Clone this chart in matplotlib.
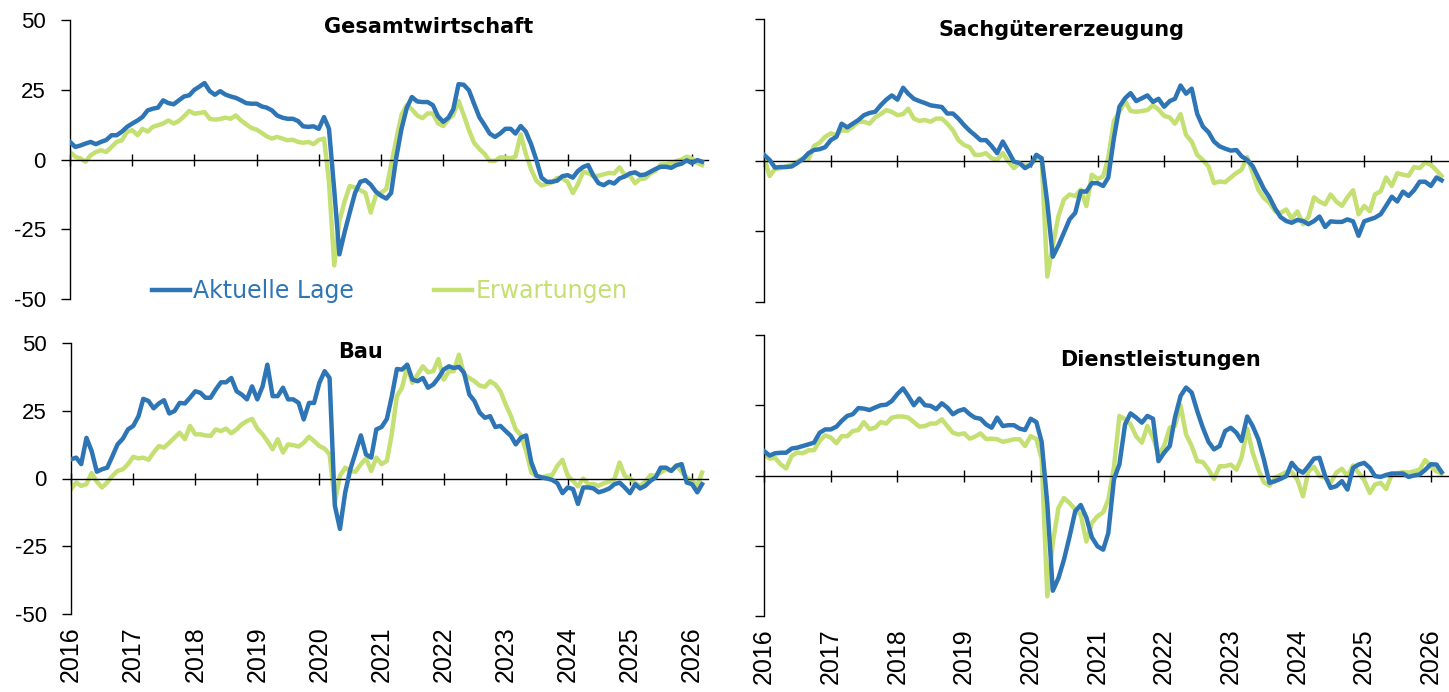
import matplotlib
matplotlib.use("Agg")
import matplotlib.pyplot as plt
import matplotlib.dates as mdates
import pandas as pd

# WIFO-Konjunkturtest: Indizes der aktuellen Lage und der Erwartungen (Salden)
MONTHS = pd.date_range("2016-01-01", periods=123, freq="MS")
YEARS = [str(y) for y in range(2016, 2027)]
YTICKS = [-50, -25, 0, 25, 50]
YLABELS = ["-50", "-25", "0", "25", "50"]

GW_LAGE = [
    6.3, 4.5, 5.0, 5.7, 6.3, 5.5, 6.3, 7.0, 8.7, 8.7, 10.0, 11.7,
    12.9, 14.0, 15.2, 17.6, 18.2, 18.6, 21.2, 20.2, 19.8, 21.2, 22.6, 23.0,
    25.0, 26.2, 27.4, 24.5, 23.2, 24.5, 23.3, 22.6, 22.1, 21.2, 20.2, 20.0,
    20.0, 19.0, 18.6, 17.6, 15.8, 15.0, 14.6, 14.6, 13.8, 11.9, 11.7, 11.9,
    11.0, 15.2, 11.0, -11.0, -34.0, -26.0, -19.0, -12.0, -8.0, -7.4, -9.0, -11.5,
    -13.0, -14.0, -12.0, 1.0, 11.0, 18.5, 22.4, 20.8, 20.6, 20.6, 19.5, 15.5,
    13.5, 15.0, 18.0, 27.0, 26.8, 24.8, 20.0, 15.2, 12.3, 9.3, 8.1, 9.3,
    11.0, 11.0, 9.3, 12.0, 10.0, 5.5, 0.0, -6.5, -8.0, -8.0, -7.6, -6.0,
    -5.6, -6.5, -4.2, -2.7, -2.0, -5.8, -8.5, -9.2, -8.0, -8.6, -6.8, -6.1,
    -5.0, -4.6, -5.6, -5.4, -4.4, -3.4, -2.6, -2.6, -3.0, -2.0, -1.5, -0.3,
    -1.3, -0.2, -0.8,
]
GW_ERW = [
    2.7, 1.0, 0.4, -0.8, 1.5, 2.7, 3.3, 2.7, 4.5, 6.3, 6.9, 9.9,
    10.5, 8.7, 11.0, 10.0, 11.7, 12.3, 12.9, 14.0, 12.9, 13.8, 15.5, 17.4,
    16.4, 16.7, 17.0, 14.6, 14.3, 14.5, 15.0, 14.6, 15.8, 14.0, 12.6, 11.3,
    10.7, 9.5, 8.3, 7.5, 8.1, 7.5, 6.9, 7.1, 6.3, 6.0, 6.3, 5.5,
    7.0, 7.5, -8.0, -38.0, -22.0, -15.0, -9.5, -10.0, -11.0, -12.0, -19.0, -13.0,
    -12.0, -10.5, -2.0, 7.5, 16.0, 19.5, 18.0, 15.8, 14.8, 16.5, 16.5, 13.0,
    12.0, 14.5, 16.0, 21.0, 16.0, 10.5, 6.0, 3.8, 2.0, -0.5, -0.5, 0.8,
    0.7, 0.5, 1.0, 9.0, 2.0, -3.5, -7.5, -9.3, -8.8, -8.2, -6.6, -6.8,
    -8.0, -12.0, -9.0, -4.5, -4.8, -6.0, -5.8, -5.3, -4.8, -5.0, -2.8, -5.5,
    -5.8, -8.5, -7.0, -6.8, -5.0, -4.0, -1.8, -1.7, -1.4, -0.6, 0.0, 1.0,
    0.3, -1.2, -2.0,
]
SG_LAGE = [
    2.0, 0.2, -2.5, -2.3, -2.3, -2.1, -0.9, 0.5, 2.6, 3.7, 4.0, 4.7,
    7.2, 8.4, 13.0, 11.7, 13.0, 14.3, 16.0, 16.8, 17.2, 19.5, 21.5, 23.0,
    21.5, 25.7, 23.6, 21.8, 21.0, 20.3, 19.5, 19.2, 18.9, 16.6, 16.6, 14.8,
    12.5, 10.5, 9.0, 7.2, 7.2, 5.1, 2.6, 6.7, 3.2, -0.4, -0.9, -2.7,
    -1.5, 2.0, 0.8, -15.0, -34.0, -30.0, -25.5, -20.8, -18.5, -10.9, -11.0, -8.0,
    -8.0, -9.0, -6.0, 8.0, 19.0, 22.0, 23.8, 21.0, 22.0, 23.0, 20.7, 21.8,
    19.0, 21.0, 21.8, 26.5, 23.6, 25.4, 16.5, 12.0, 10.0, 6.7, 5.0, 4.2,
    3.5, 3.7, 1.5, 0.2, -2.0, -6.0, -10.0, -13.0, -17.0, -20.0, -21.4, -22.0,
    -21.0, -21.4, -22.5, -21.4, -19.8, -23.5, -21.5, -21.7, -21.7, -20.8, -21.5, -26.6,
    -21.5, -20.8, -20.2, -19.0, -16.0, -12.8, -14.5, -11.0, -12.5, -10.5, -7.5, -7.5,
    -9.0, -6.0, -7.0,
]
SG_ERW = [
    1.2, -5.5, -3.0, -2.7, -2.1, -1.5, -0.4, 0.8, 0.5, 5.1, 6.3, 8.4,
    9.6, 9.0, 10.7, 10.5, 11.9, 13.7, 13.7, 13.0, 15.2, 16.4, 17.8, 17.2,
    16.0, 16.4, 18.3, 14.8, 14.0, 14.3, 13.7, 14.8, 14.8, 13.0, 10.7, 7.2,
    5.5, 4.7, 2.0, 2.0, 2.6, 0.8, 0.2, 2.6, -0.4, -2.7, -0.9, -1.9,
    -1.5, 0.8, 0.8, -41.0, -30.0, -19.6, -13.8, -12.0, -12.6, -10.3, -16.1, -5.0,
    -6.5, -5.6, 1.0, 14.0, 17.2, 21.0, 17.5, 17.2, 17.5, 17.8, 19.5, 18.0,
    15.8, 15.2, 13.0, 16.4, 9.0, 6.7, 2.0, 0.2, -2.1, -8.0, -7.4, -7.7,
    -6.0, -4.4, -3.3, 1.2, -4.4, -10.3, -13.2, -15.0, -17.9, -18.5, -17.3, -20.5,
    -18.0, -22.5, -20.0, -13.0, -14.5, -15.5, -12.0, -14.5, -16.0, -13.0, -10.5, -19.0,
    -16.1, -17.9, -12.0, -10.9, -6.0, -9.0, -4.5, -5.0, -5.4, -2.3, -2.7, -0.7,
    -1.5, -3.5, -5.5,
]
BAU_LAGE = [
    7.1, 7.7, 5.3, 15.0, 10.2, 2.5, 3.4, 4.0, 8.3, 12.6, 14.7, 18.1,
    19.4, 23.0, 29.4, 28.6, 25.9, 27.7, 28.9, 24.0, 24.9, 27.9, 27.7, 29.8,
    32.2, 31.6, 29.8, 29.8, 32.8, 35.5, 35.5, 37.1, 32.2, 31.0, 29.2, 34.0,
    29.2, 34.0, 42.0, 30.4, 30.4, 33.5, 29.2, 29.2, 27.9, 21.8, 27.9, 27.9,
    35.3, 39.6, 37.1, -10.0, -18.6, -5.1, 3.4, 9.6, 15.9, 8.9, 7.7, 18.1,
    19.0, 22.0, 30.0, 40.4, 40.2, 42.0, 36.5, 35.9, 37.1, 33.5, 34.7, 37.1,
    40.2, 41.4, 40.8, 41.2, 39.0, 31.0, 28.6, 24.3, 22.4, 23.0, 19.0, 19.4,
    17.5, 15.7, 12.6, 15.1, 15.9, 5.9, 1.0, 0.4, 0.0, -0.5, -1.7, -5.4,
    -3.3, -3.9, -9.4, -3.3, -3.3, -3.7, -5.1, -4.5, -3.7, -2.1, -1.5, -3.3,
    -5.4, -2.1, -3.7, -2.7, -0.9, 0.4, 4.0, 4.0, 2.8, 4.7, 5.3, -1.5,
    -2.1, -5.1, -2.1,
]
BAU_ERW = [
    -3.9, -1.5, -2.7, -2.1, 2.0, -1.2, -3.3, -1.5, 1.0, 2.8, 3.4, 5.3,
    8.0, 7.4, 7.7, 6.9, 9.6, 12.0, 11.4, 13.2, 15.1, 16.9, 14.5, 19.4,
    16.3, 16.3, 15.9, 15.7, 18.1, 17.5, 18.4, 16.7, 18.1, 20.0, 21.2, 22.0,
    18.4, 16.3, 13.8, 10.8, 14.5, 9.6, 12.6, 12.3, 11.8, 13.2, 15.4, 13.8,
    12.0, 11.0, 8.9, -8.8, 1.0, 4.0, 2.8, 2.5, 5.3, 7.4, 2.8, 7.7,
    5.3, 6.5, 16.0, 30.4, 33.5, 41.4, 35.3, 38.4, 41.4, 39.2, 39.6, 44.1,
    36.5, 39.6, 39.6, 45.7, 38.4, 37.1, 35.9, 34.3, 33.8, 35.9, 34.7, 32.2,
    27.3, 23.0, 18.1, 15.9, 10.2, 2.2, 1.0, 0.4, 1.0, 1.2, 4.7, 6.9,
    1.0, -0.9, -2.9, 0.0, -2.1, -2.1, -2.7, -1.7, -1.2, -0.2, 5.9, 1.0,
    0.0, -1.7, -2.7, -1.2, 1.2, 1.0, 2.2, 3.4, 2.8, 4.9, 2.5, 0.4,
    -0.9, -2.7, 2.2,
]
DL_LAGE = [
    8.7, 7.1, 7.9, 8.1, 8.1, 9.6, 9.9, 10.5, 11.1, 11.7, 15.2, 16.4,
    16.4, 17.4, 19.4, 21.2, 21.8, 24.0, 23.8, 23.3, 24.2, 25.0, 25.2, 26.5,
    29.0, 31.0, 28.3, 25.0, 27.4, 25.0, 24.8, 23.6, 25.7, 24.2, 21.8, 23.0,
    23.6, 21.8, 20.6, 20.2, 18.2, 17.0, 20.6, 17.6, 17.9, 17.9, 16.7, 16.2,
    20.2, 19.0, 12.0, -10.0, -41.0, -36.5, -30.0, -21.7, -12.7, -10.5, -15.0, -22.0,
    -25.2, -26.4, -20.5, -1.4, 4.0, 18.2, 22.1, 20.6, 18.8, 21.2, 20.2, 5.1,
    8.1, 10.5, 20.6, 28.3, 31.3, 29.5, 23.0, 17.0, 12.0, 9.3, 10.5, 15.8,
    17.0, 15.2, 12.3, 21.0, 17.6, 12.9, 5.8, -2.6, -2.0, -1.2, -0.2, 4.5,
    2.1, 1.0, 3.3, 6.0, 6.3, -0.2, -4.4, -3.8, -2.0, -5.0, 2.7, 3.9,
    4.5, 2.7, -0.2, -0.5, 0.2, 0.7, 0.7, 0.7, -0.5, 0.0, 0.4, 2.0,
    4.0, 3.9, 1.2,
]
DL_ERW = [
    7.5, 6.0, 6.3, 4.0, 2.5, 7.0, 8.2, 7.9, 9.0, 9.0, 12.3, 14.3,
    13.5, 11.5, 14.0, 14.0, 15.8, 16.2, 19.0, 16.5, 17.0, 19.0, 18.5, 20.6,
    21.0, 21.0, 20.6, 19.0, 17.4, 17.6, 18.5, 18.5, 20.0, 17.6, 15.2, 14.6,
    15.0, 13.1, 13.8, 15.0, 13.0, 13.1, 12.9, 12.0, 12.4, 12.9, 12.9, 10.5,
    14.0, 13.0, 6.0, -43.0, -24.0, -11.5, -8.0, -9.8, -12.1, -13.9, -23.5, -16.9,
    -14.5, -13.1, -8.6, 3.0, 21.2, 20.0, 18.2, 13.9, 11.7, 17.6, 13.5, 7.5,
    10.5, 17.0, 17.6, 25.0, 14.6, 10.5, 5.1, 4.8, 2.1, -1.2, 3.3, 3.3,
    3.9, 2.1, 6.3, 16.7, 8.1, 2.1, -2.4, -3.6, -0.8, 0.2, 1.2, 1.2,
    -1.5, -7.4, 1.5, 3.1, -0.2, -0.8, -2.6, 1.0, 2.4, -0.2, 3.6, 1.0,
    -1.7, -6.2, -3.2, -2.6, -4.8, 0.4, 0.8, 1.2, 1.0, 1.5, 2.1, 5.5,
    3.3, 1.5, 0.7,
]

BLUE = "#2e75b6"
GREEN = "#c4df72"
W, H = 1449, 692


def px_box(left, top, right, bottom):
    return [left / W, (H - bottom) / H, (right - left) / W, (bottom - top) / H]


fig = plt.figure(figsize=(W / 100, H / 100), dpi=100)

panels = [
    # title, lage, erwartungen, axes box (px), title centre (px), left labels, bottom labels
    ("Gesamtwirtschaft", GW_LAGE, GW_ERW, (70, 20, 708, 299), (429, 27), True, False),
    ("Sachgütererzeugung", SG_LAGE, SG_ERW, (764, 19, 1448, 302), (1062, 30), False, False),
    ("Bau", BAU_LAGE, BAU_ERW, (71, 343, 708, 614), (360, 352), True, True),
    ("Dienstleistungen", DL_LAGE, DL_ERW, (764, 335, 1448, 616), (1161, 360), False, True),
]

year_ticks = mdates.date2num(pd.date_range("2016-01-01", periods=len(YEARS), freq="YS"))

axes = []
for title, lage, erw, box, tpos, ylabels, xlabels in panels:
    ax = fig.add_axes(px_box(*box))
    ax.plot(MONTHS, lage, color=BLUE, lw=3.2, label="Aktuelle Lage", zorder=3,
            solid_joinstyle="round")
    ax.plot(MONTHS, erw, color=GREEN, lw=3.2, label="Erwartungen", zorder=2,
            solid_joinstyle="round")

    ax.set_ylim(-50, 50)
    ax.set_xlim(mdates.datestr2num("2016-01-01"), mdates.datestr2num("2026-04-05"))
    ax.set_yticks(YTICKS)
    ax.set_yticklabels(YLABELS if ylabels else [])
    ax.tick_params(axis="y", direction="out", length=6.5, width=1.0, pad=11,
                   labelsize=16, labelfontfamily="Liberation Sans")

    ax.set_xticks(year_ticks)
    ax.tick_params(axis="x", direction="inout", length=9, width=1.0, labelbottom=False)

    for side in ("top", "right"):
        ax.spines[side].set_visible(False)
    ax.spines["bottom"].set_position(("data", 0))
    ax.spines["bottom"].set_linewidth(1.0)
    ax.spines["left"].set_linewidth(1.0)
    ax.patch.set_alpha(0)

    if xlabels:
        sec = ax.secondary_xaxis("bottom")
        sec.set_xticks(year_ticks, labels=YEARS)
        sec.tick_params(axis="x", length=0, pad=9, labelrotation=90, labelsize=18,
                        labelfontfamily="Liberation Sans")
        sec.spines["bottom"].set_visible(False)

    fig.text(tpos[0] / W, 1 - tpos[1] / H, title, ha="center", va="center",
             fontsize=15, fontweight="bold", family="DejaVu Sans")
    axes.append(ax)

leg = axes[0].legend(ncol=2, loc="center left", bbox_to_anchor=(152 / W, 1 - 291 / H),
                     bbox_transform=fig.transFigure, frameon=False, borderaxespad=0,
                     borderpad=0, handlelength=1.6, handletextpad=0.15, columnspacing=3.4,
                     labelcolor="linecolor", prop={"family": "DejaVu Sans", "size": 17})

fig.savefig("out.png", dpi=100)
